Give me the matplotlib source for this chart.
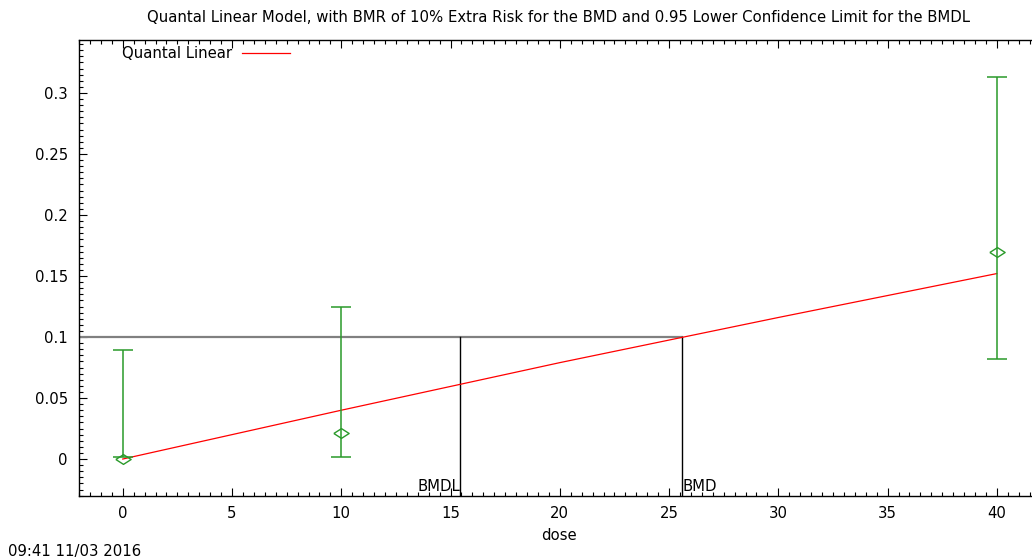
import numpy as np
import matplotlib
matplotlib.use('Agg')
import matplotlib.pyplot as plt

# observed data (dose groups) with confidence limits
dose = [0, 10, 40]
frac_resp = [0.0, 0.021, 0.170]
lower_cl = [0.002, 0.0015, 0.082]
upper_cl = [0.089, 0.125, 0.313]

# fitted quantal linear curve
model_dose = [0, 10, 20, 30, 40]
model_resp = [0.0, 0.040, 0.079, 0.116, 0.152]

bmr = 0.1
bmd = 25.6
bmdl = 15.45

title = 'Quantal Linear Model, with BMR of 10% Extra Risk for the BMD and 0.95 Lower Confidence Limit for the BMDL'
stamp = '09:41 11/03 2016'

xticks = [0, 5, 10, 15, 20, 25, 30, 35, 40]
yticks = [0, 0.05, 0.1, 0.15, 0.2, 0.25, 0.3]

def main():
    plt.rcParams['font.family'] = ['DejaVu Sans']
    fs = 10.7
    green = '#2a9a2a'
    fig = plt.figure(figsize=(10.32, 5.59), dpi=100)
    ax = fig.add_axes([0.0766, 0.1127, 0.93, 0.8157])
    #
    ax.set_xlim(-2.0, 41.92)
    ax.set_ylim(-0.0303, 0.3434)
    ax.set_xticks(xticks)
    ax.set_yticks(yticks)
    ax.set_xticklabels([str(t) for t in xticks])
    ax.set_yticklabels(['0', '0.05', '0.1', '0.15', '0.2', '0.25', '0.3'])
    ax.set_xticks(np.arange(-2.0, 42.0, 0.5), minor=True)
    ax.set_yticks(np.arange(-0.03, 0.345, 0.005), minor=True)
    ax.tick_params(which='both', direction='in', top=True, right=False, labelsize=fs, colors='black')
    ax.tick_params(which='major', length=6, width=0.8)
    ax.tick_params(axis='y', which='major', pad=8)
    ax.tick_params(axis='x', which='major', pad=7)
    ax.tick_params(which='minor', length=3, width=0.8)
    for s in ax.spines.values():
        s.set_linewidth(1.0)
    #
    # BMR / BMD / BMDL markers
    ax.plot([-2.0, bmd], [bmr, bmr], color='#808080', lw=1.6, zorder=2)
    ybot = ax.get_ylim()[0]
    ax.plot([bmdl, bmdl], [ybot, bmr], color='black', lw=1.0, zorder=2)
    ax.plot([bmd, bmd], [ybot, bmr], color='black', lw=1.0, zorder=2)
    ax.text(bmdl, ybot + 0.002, 'BMDL', ha='right', va='bottom', fontsize=fs)
    ax.text(bmd, ybot + 0.002, 'BMD', ha='left', va='bottom', fontsize=fs)
    #
    # fitted model
    ax.plot(model_dose, model_resp, color='red', lw=0.9, label='Quantal Linear', zorder=3)
    #
    # data with confidence bars
    ax.vlines(dose, lower_cl, upper_cl, color=green, lw=1.1, zorder=4)
    ax.plot(dose, lower_cl, linestyle='none', marker='_', markersize=14.4,
            markeredgecolor=green, markeredgewidth=1.1, zorder=4)
    ax.plot(dose, upper_cl, linestyle='none', marker='_', markersize=14.4,
            markeredgecolor=green, markeredgewidth=1.1, zorder=4)
    diamond = [(-1, 0), (0, 0.64), (1, 0), (0, -0.64), (-1, 0)]
    ax.plot(dose, frac_resp, linestyle='none', marker=diamond, markersize=11,
            markerfacecolor='none', markeredgecolor=green, markeredgewidth=1.0, zorder=5)
    #
    ax.legend(loc='upper left', bbox_to_anchor=(0.035, 1.006), frameon=False, markerfirst=False,
              fontsize=fs, handlelength=3.2, handletextpad=0.7, borderaxespad=0.2)
    #
    ax.set_xlabel('dose', fontsize=fs, labelpad=5)
    fig.text(0.541, 0.969, title, ha='center', va='center', fontsize=fs)
    fig.text(0.008, 0.0143, stamp, ha='left', va='center', fontsize=fs)
    #
    plt.savefig('out.png', dpi=100)
    plt.close()

if __name__ == "__main__":
    main()
